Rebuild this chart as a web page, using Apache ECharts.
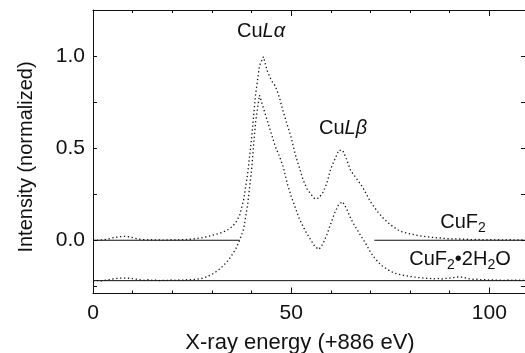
<!DOCTYPE html>
<html>
<head>
<meta charset="utf-8">
<script src="https://cdn.jsdelivr.net/npm/echarts@6/dist/echarts.min.js"></script>
<style>
  html, body { margin: 0; padding: 0; background: #fff; }
  #chart { width: 525px; height: 353px; }
</style>
</head>
<body>
<div id="chart"></div>
<script>
// X-ray energy grid, eV above 886 eV
const energy = [
  0, 1, 2, 3, 4, 5, 6, 7, 8, 9,
  10, 11, 12, 13, 14, 15, 16, 17, 18, 19,
  20, 21, 22, 23, 24, 25, 26, 27, 28, 29,
  30, 31, 32, 33, 34, 35, 36, 37, 38, 39,
  40, 41, 42, 43, 44, 45, 46, 47, 48, 49,
  50, 51, 52, 53, 54, 55, 56, 57, 58, 59,
  60, 61, 62, 63, 64, 65, 66, 67, 68, 69,
  70, 71, 72, 73, 74, 75, 76, 77, 78, 79,
  80, 81, 82, 83, 84, 85, 86, 87, 88, 89,
  90, 91, 92, 93, 94, 95, 96, 97, 98, 99,
  100, 101, 102, 103, 104, 105, 106, 107, 108, 109
];

// CuF2 spectrum (normalized, baseline 0)
const cuF2 = [
  0.001, 0.000, 0.002, 0.004, 0.008, 0.013, 0.017, 0.020, 0.021, 0.019,
  0.014, 0.009, 0.005, 0.003, 0.002, 0.003, 0.001, 0.002, 0.000, 0.002,
  0.003, 0.001, 0.004, 0.003, 0.005, 0.006, 0.009, 0.012, 0.016, 0.021,
  0.026, 0.032, 0.038, 0.046, 0.057, 0.072, 0.095, 0.135, 0.22, 0.36,
  0.55, 0.79, 0.95, 1.00, 0.92, 0.87, 0.84, 0.78, 0.70, 0.63,
  0.56, 0.47, 0.40, 0.33, 0.28, 0.25, 0.225, 0.23, 0.26, 0.31,
  0.39, 0.44, 0.49, 0.49, 0.44, 0.38, 0.35, 0.32, 0.29, 0.25,
  0.21, 0.18, 0.15, 0.125, 0.105, 0.085, 0.07, 0.056, 0.046, 0.040,
  0.034, 0.030, 0.026, 0.022, 0.020, 0.017, 0.015, 0.013, 0.012, 0.009,
  0.008, 0.007, 0.008, 0.005, 0.006, 0.004, 0.003, 0.005, 0.003, 0.002,
  0.004, 0.002, 0.003, 0.001, 0.002, 0.003, 0.001, 0.002, 0.001, 0.002
];

// CuF2·2H2O spectrum (normalized, offset to baseline -0.22)
const cuF2Hydrate = [
  -0.222, -0.220, -0.221, -0.218, -0.215, -0.211, -0.208, -0.206, -0.206, -0.207,
  -0.209, -0.212, -0.216, -0.218, -0.215, -0.219, -0.217, -0.220, -0.218, -0.219,
  -0.216, -0.219, -0.216, -0.218, -0.214, -0.215, -0.213, -0.210, -0.205, -0.196,
  -0.186, -0.172, -0.156, -0.136, -0.112, -0.082, -0.048, 0.000, 0.06, 0.19,
  0.38, 0.64, 0.79, 0.72, 0.65, 0.58, 0.51, 0.46, 0.40, 0.31,
  0.24, 0.18, 0.12, 0.075, 0.035, 0.000, -0.035, -0.05, -0.02, 0.03,
  0.09, 0.15, 0.195, 0.21, 0.17, 0.12, 0.08, 0.045, 0.01, -0.025,
  -0.065, -0.095, -0.12, -0.14, -0.155, -0.168, -0.178, -0.185, -0.19, -0.193,
  -0.197, -0.200, -0.203, -0.205, -0.207, -0.208, -0.210, -0.208, -0.211, -0.208,
  -0.206, -0.203, -0.200, -0.201, -0.205, -0.210, -0.213, -0.212, -0.216, -0.214,
  -0.217, -0.216, -0.218, -0.217, -0.219, -0.216, -0.218, -0.217, -0.219, -0.218
];

// Reference baselines: level and the energy spans they cover
const cuF2BaseLevel = 0;
const cuF2BaseSpans = [[0, 37], [71, 109]];
const hydrateBaseLevel = -0.22;
const hydrateBaseSpans = [[0, 109]];

// Axis ranges and tick positions
const xRange = [0, 109];
const yRange = [-0.29, 1.254];
const xLabelValues = [0, 50, 100];
const xTickValues = [0, 10, 20, 30, 40, 50, 60, 70, 80, 90, 100];
const xMajorTickValues = [0, 50, 100];
const yLabelValues = [0, 0.5, 1.0];
const yTickValues = [-0.25, 0, 0.25, 0.5, 0.75, 1.0, 1.25];

const FONT = '"Liberation Sans", Arial, Helvetica, sans-serif';
const INK = '#111';

const chart = echarts.init(document.getElementById('chart'), null, { renderer: 'canvas' });

function pairs(xs, ys) {
  return xs.map((x, i) => [x, ys[i]]);
}

function baselineSeries(spans, level) {
  return spans.map(s => ({
    type: 'line',
    data: [[s[0], level], [s[1], level]],
    symbol: 'none',
    silent: true,
    lineStyle: { color: INK, width: 1 },
    z: 1
  }));
}

const spectrumStyle = {
  type: 'line',
  symbol: 'none',
  smooth: false,
  silent: true,
  lineStyle: { color: '#111', width: 1.3, type: [1.3, 2.6] },
  z: 2
};

function xAxisBase(pos, extra) {
  return Object.assign({
    type: 'value',
    position: pos,
    min: xRange[0],
    max: xRange[1],
    splitLine: { show: false },
    axisLine: { show: true, onZero: false, lineStyle: { color: INK, width: 1 } },
    axisTick: { show: true, inside: true, length: 3, customValues: xTickValues, lineStyle: { color: INK } },
    axisLabel: { show: false }
  }, extra || {});
}

function yAxisBase(pos, extra) {
  return Object.assign({
    type: 'value',
    position: pos,
    min: yRange[0],
    max: yRange[1],
    splitLine: { show: false },
    axisLine: { show: true, onZero: false, lineStyle: { color: INK, width: 1 } },
    axisTick: { show: true, inside: true, length: 4, customValues: yTickValues, lineStyle: { color: INK } },
    axisLabel: { show: false }
  }, extra || {});
}

const majorTickAxis = {
  axisLine: { show: false, onZero: false },
  axisTick: { show: true, inside: true, length: 6, customValues: xMajorTickValues, lineStyle: { color: INK } }
};

const option = {
  backgroundColor: '#fff',
  animation: false,
  grid: { left: 93, right: 0, top: 10, bottom: 59.5, containLabel: false },
  xAxis: [
    xAxisBase('bottom', {
      axisLabel: {
        show: true, customValues: xLabelValues, margin: 9,
        fontFamily: FONT, fontSize: 21, color: INK
      }
    }),
    xAxisBase('top'),
    // longer ticks at the labelled energies
    xAxisBase('bottom', majorTickAxis),
    xAxisBase('top', majorTickAxis)
  ],
  yAxis: [
    yAxisBase('left', {
      axisLabel: {
        show: true, customValues: yLabelValues, margin: 8,
        fontFamily: FONT, fontSize: 21, color: INK,
        formatter: v => v.toFixed(1)
      }
    }),
    yAxisBase('right')
  ],
  series: [
    ...baselineSeries(cuF2BaseSpans, cuF2BaseLevel),
    ...baselineSeries(hydrateBaseSpans, hydrateBaseLevel),
    Object.assign({ name: 'CuF2', data: pairs(energy, cuF2) }, spectrumStyle),
    Object.assign({ name: 'CuF2·2H2O', data: pairs(energy, cuF2Hydrate) }, spectrumStyle)
  ],
  graphic: [
    {
      type: 'text', x: 26, y: 157, rotation: Math.PI / 2,
      style: {
        text: 'Intensity (normalized)', font: '20px ' + FONT, fill: INK,
        align: 'center', verticalAlign: 'middle'
      }
    },
    {
      type: 'text', x: 300, y: 343,
      style: {
        text: 'X-ray energy (+886 eV)', font: '22px ' + FONT, fill: INK,
        align: 'center', verticalAlign: 'middle'
      }
    },
    {
      type: 'text', x: 261, y: 31,
      style: {
        text: '{n|Cu}{i|Lα}', align: 'center', verticalAlign: 'middle',
        rich: {
          n: { font: '20px ' + FONT, fill: INK },
          i: { font: 'italic 20px ' + FONT, fill: INK }
        }
      }
    },
    {
      type: 'text', x: 343, y: 128,
      style: {
        text: '{n|Cu}{i|Lβ}', align: 'center', verticalAlign: 'middle',
        rich: {
          n: { font: '20px ' + FONT, fill: INK },
          i: { font: 'italic 20px ' + FONT, fill: INK }
        }
      }
    },
    {
      type: 'text', x: 463, y: 223,
      style: {
        text: '{n|CuF}{s|2}', align: 'center', verticalAlign: 'middle',
        rich: {
          n: { font: '20px ' + FONT, fill: INK, lineHeight: 22, verticalAlign: 'top' },
          s: { font: '14px ' + FONT, fill: INK, lineHeight: 22, verticalAlign: 'top', padding: [9, 0, 0, 0] }
        }
      }
    },
    {
      type: 'text', x: 460, y: 260,
      style: {
        text: '{n|CuF}{s|2}{n|•2H}{s|2}{n|O}', align: 'center', verticalAlign: 'middle',
        rich: {
          n: { font: '20px ' + FONT, fill: INK, lineHeight: 22, verticalAlign: 'top' },
          s: { font: '14px ' + FONT, fill: INK, lineHeight: 22, verticalAlign: 'top', padding: [9, 0, 0, 0] }
        }
      }
    }
  ]
};

chart.setOption(option);
</script>
</body>
</html>
